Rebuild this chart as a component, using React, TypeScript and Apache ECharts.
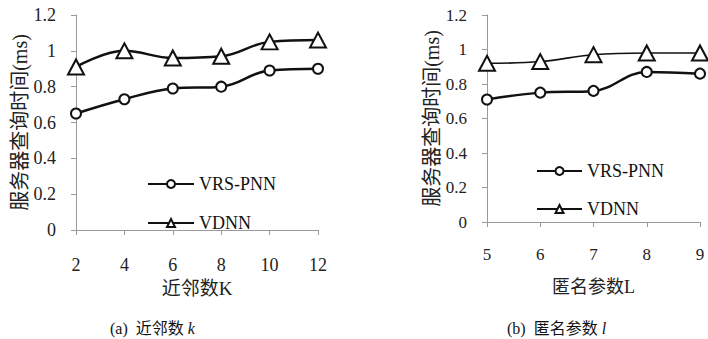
import React, { useEffect, useRef } from "react";
import * as echarts from "echarts";

// Panel (a): neighbour count K
const kValues = [2, 4, 6, 8, 10, 12];
const vrsPnnK = [0.65, 0.73, 0.79, 0.8, 0.89, 0.9];
const vdnnK = [0.91, 1.0, 0.96, 0.97, 1.05, 1.06];

// Panel (b): anonymity parameter L
const lValues = [5, 6, 7, 8, 9];
const vrsPnnL = [0.71, 0.75, 0.76, 0.87, 0.86];
const vdnnL = [0.92, 0.93, 0.97, 0.98, 0.98];

const seriesNames = ["VRS-PNN", "VDNN"];
const yAxisName = "服务器查询时间(ms)";
const xAxisNameA = "近邻数K";
const xAxisNameB = "匿名参数L";
const captionA = "(a)  近邻数 {i|k}";
const captionB = "(b)  匿名参数 {i|l}";

const SERIF = "'Liberation Serif', 'Times New Roman', 'Noto Sans CJK SC', serif";
const AXIS_GREY = "#9a9a9a";
const INK = "#111";

function pairs(xs: number[], ys: number[]) {
  return xs.map((x, i) => [x, ys[i]]);
}

export default function App() {
  const ref = useRef<HTMLDivElement>(null);

  useEffect(() => {
    if (!ref.current) return;
    const chart = echarts.init(ref.current, undefined, { renderer: "svg" });

    const axisCommon = {
      axisLine: { show: true, lineStyle: { color: AXIS_GREY, width: 1 } },
      axisTick: { show: true, length: 5, lineStyle: { color: AXIS_GREY } },
      splitLine: { show: false },
    };

    const yAxisBase = (gridIndex: number, fs: number) => ({
      ...axisCommon,
      type: "value" as const,
      gridIndex,
      min: 0,
      max: 1.2,
      interval: 0.2,
      axisLabel: {
        margin: 20,
        fontSize: fs,
        fontFamily: SERIF,
        color: "#222",
        formatter: (v: number) => String(Math.round(v * 10) / 10),
      },
      name: yAxisName,
      nameLocation: "middle" as const,
      nameRotate: 90,
      nameGap: 44,
      nameTextStyle: { fontSize: 20, fontFamily: SERIF, color: "#222" },
    });

    const lineSeries = (
      name: string,
      symbol: string,
      size: number | number[],
      data: number[][],
      idx: number,
      width: number
    ) => ({
      name,
      type: "line" as const,
      xAxisIndex: idx,
      yAxisIndex: idx,
      data,
      smooth: 0.4,
      clip: false,
      symbol,
      symbolSize: size,
      showSymbol: true,
      lineStyle: { color: INK, width },
      itemStyle: { color: INK, borderWidth: 1.3 },
      emphasis: { disabled: true },
    });

    chart.setOption({
      animation: false,
      backgroundColor: "#fff",
      grid: [
        { left: 76, right: 390, top: 15, bottom: 109 },
        { left: 487, right: 8, top: 15, bottom: 117 },
      ],
      xAxis: [
        {
          ...axisCommon,
          type: "value",
          gridIndex: 0,
          min: 2,
          max: 12,
          interval: 2,
          axisLabel: { margin: 26, fontSize: 18, fontFamily: SERIF, color: "#222" },
          name: xAxisNameA,
          nameLocation: "middle",
          nameGap: 44,
          nameTextStyle: { fontSize: 19, fontFamily: SERIF, color: "#222" },
        },
        {
          ...axisCommon,
          type: "value",
          gridIndex: 1,
          min: 5,
          max: 9,
          interval: 1,
          axisLabel: { margin: 24, fontSize: 17, fontFamily: SERIF, color: "#222" },
          name: xAxisNameB,
          nameLocation: "middle",
          nameGap: 56,
          nameTextStyle: { fontSize: 18, fontFamily: SERIF, color: "#222" },
        },
      ],
      yAxis: [yAxisBase(0, 18), yAxisBase(1, 17)],
      legend: [
        {
          data: [seriesNames[0], seriesNames[1]],
          orient: "vertical",
          left: 147,
          top: 175,
          padding: 0,
          itemWidth: 46,
          itemHeight: 10,
          itemGap: 21,
          selectedMode: false,
          textStyle: { fontSize: 18, fontFamily: SERIF, color: "#111" },
        },
        {
          data: [seriesNames[0] + "\u200b", seriesNames[1] + "\u200b"],
          orient: "vertical",
          left: 536,
          top: 162,
          padding: 0,
          itemWidth: 45,
          itemHeight: 10,
          itemGap: 20,
          selectedMode: false,
          formatter: (n: string) => n.replace("\u200b", ""),
          textStyle: { fontSize: 18, fontFamily: SERIF, color: "#111" },
        },
      ],
      title: [
        {
          text: captionA,
          left: 110,
          top: 320,
          padding: 0,
          textStyle: {
            fontSize: 16,
            fontWeight: "normal",
            fontFamily: SERIF,
            color: "#111",
            rich: { i: { fontStyle: "italic", fontSize: 16, fontFamily: SERIF, color: "#111" } },
          },
        },
        {
          text: captionB,
          left: 507,
          top: 320,
          padding: 0,
          textStyle: {
            fontSize: 16,
            fontWeight: "normal",
            fontFamily: SERIF,
            color: "#111",
            rich: { i: { fontStyle: "italic", fontSize: 16, fontFamily: SERIF, color: "#111" } },
          },
        },
      ],
      series: [
        lineSeries(seriesNames[0], "emptyCircle", 10, pairs(kValues, vrsPnnK), 0, 2.5),
        lineSeries(seriesNames[1], "emptyTriangle", [16, 15], pairs(kValues, vdnnK), 0, 2.5),
        lineSeries(seriesNames[0] + "\u200b", "emptyCircle", 10, pairs(lValues, vrsPnnL), 1, 2.5),
        lineSeries(seriesNames[1] + "\u200b", "emptyTriangle", [16, 15], pairs(lValues, vdnnL), 1, 1.6),
      ],
    });

    return () => chart.dispose();
  }, []);

  return (
    <div
      ref={ref}
      style={{ position: "fixed", left: 0, top: 0, width: 708, height: 339 }}
    />
  );
}
